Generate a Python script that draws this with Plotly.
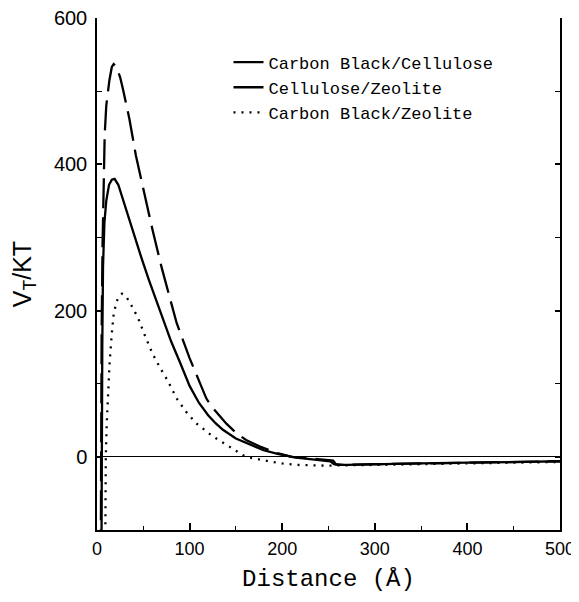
import plotly.graph_objects as go

# Carbon Black / Cellulose (solid)
cb_cel_x = [4.3, 5.0, 5.7, 6.5, 8.0, 10, 13, 16, 19, 23, 28, 34, 40, 48, 56, 64, 72, 80, 90, 100,
            110, 120, 128, 136, 150, 165, 180, 195, 205, 215, 230, 245, 252, 256, 260, 270, 300,
            350, 400, 450, 500]
cb_cel_y = [-300, 0, 150, 260, 320, 350, 372, 379, 380, 372, 352, 327, 302, 272, 242, 214, 185, 158,
            128, 97, 74, 57, 46, 37, 25, 17, 9, 4, 1, -1, -3, -5, -6, -10, -11, -11, -10, -9,
            -8, -7, -6]

# Cellulose / Zeolite (dashed)
cel_zeo_x = [3.6, 4.2, 5.0, 6.0, 7.0, 8.3, 10, 13.4, 16, 18, 21, 25, 28, 35, 42, 50, 56, 60, 70,
             86, 100, 110, 118, 123, 140, 150, 161, 176, 195, 210, 230, 250, 255, 258, 265, 300,
             400, 500]
cel_zeo_y = [-300, 0, 170, 290, 370, 440, 480, 515, 533, 537, 533, 519, 503, 462, 412, 365, 333,
             310, 258, 183, 135, 103, 80, 70, 45, 33, 23, 14, 5, 0, -2, -4, -5, -10, -11, -10,
             -8.5, -6]

# Carbon Black / Zeolite (dotted)
cb_zeo_x = [8.0, 8.6, 9.5, 10.5, 11.8, 13.6, 16, 18, 21, 24, 27, 31, 35, 44, 52, 60, 68, 76, 86,
            96, 107, 125, 143, 158, 165, 176, 190, 200, 215, 248, 265, 300, 400, 500]
cb_zeo_y = [-300, -100, 0, 45, 85, 128, 169, 195, 212, 220, 223, 220, 212, 191, 165, 141, 122,
            105, 80, 62, 46, 28, 14, 2, -1, -4, -7, -9, -11, -12, -12, -11, -9, -7]

series_names = ["Carbon Black/Cellulose", "Cellulose/Zeolite", "Carbon Black/Zeolite"]

x_ticks = [0, 100, 200, 300, 400, 500]
y_ticks = [0, 200, 400, 600]

fig = go.Figure()
fig.add_trace(go.Scatter(x=cb_cel_x, y=cb_cel_y, mode="lines", name=series_names[0],
                         line=dict(color="black", width=2.3, dash="solid")))
fig.add_trace(go.Scatter(x=cel_zeo_x, y=cel_zeo_y, mode="lines", name=series_names[1],
                         line=dict(color="black", width=2.3, dash="30px,9px")))
fig.add_trace(go.Scatter(x=cb_zeo_x, y=cb_zeo_y, mode="lines", name=series_names[2],
                         line=dict(color="black", width=2.3, dash="2px,6px")))

mono = "Liberation Mono, DejaVu Sans Mono, monospace"
sans = "Liberation Sans, Arial, sans-serif"

fig.update_layout(
    width=571, height=586,
    margin=dict(l=89, r=19, t=10, b=64, autoexpand=False),
    paper_bgcolor="white", plot_bgcolor="white",
    showlegend=True,
    legend=dict(x=0.284, y=0.948, xanchor="left", yanchor="top",
                font=dict(family=mono, size=17, color="black"),
                bgcolor="rgba(0,0,0,0)", borderwidth=0, tracegroupgap=0),
    xaxis=dict(range=[0, 500], tickvals=x_ticks, ticks="inside", ticklen=7, tickwidth=1.5,
               tickcolor="black", showline=True, linecolor="black", linewidth=1.5,
               mirror=False, showgrid=False, zeroline=False, automargin=False,
               ticklabelstandoff=2, ticklabeloverflow="allow",
               tickfont=dict(family=sans, size=18, color="black"),
               minor=dict(dtick=50, ticks="inside", ticklen=4, tickwidth=1.2, tickcolor="black",
                          showgrid=False),
               title=dict(text="Distance (Å)", font=dict(family=mono, size=24, color="black"),
                          standoff=11)),
    yaxis=dict(range=[-100, 600], tickvals=y_ticks, ticks="inside", ticklen=5, tickwidth=1.5,
               tickcolor="black", showline=True, linecolor="black", linewidth=1.5,
               mirror="ticks", showgrid=False, zeroline=True, zerolinecolor="black",
               zerolinewidth=1, automargin=False, ticklabelstandoff=4,
               ticklabeloverflow="allow",
               tickfont=dict(family=sans, size=20, color="black"),
               minor=dict(dtick=100, tick0=0, ticks="inside", ticklen=5, tickwidth=1.2,
                          tickcolor="black", showgrid=False),
               title=dict(text="V<sub>T</sub>/KT", font=dict(family=sans, size=25, color="black"),
                          standoff=24)),
)

fig.write_html("out.html")
